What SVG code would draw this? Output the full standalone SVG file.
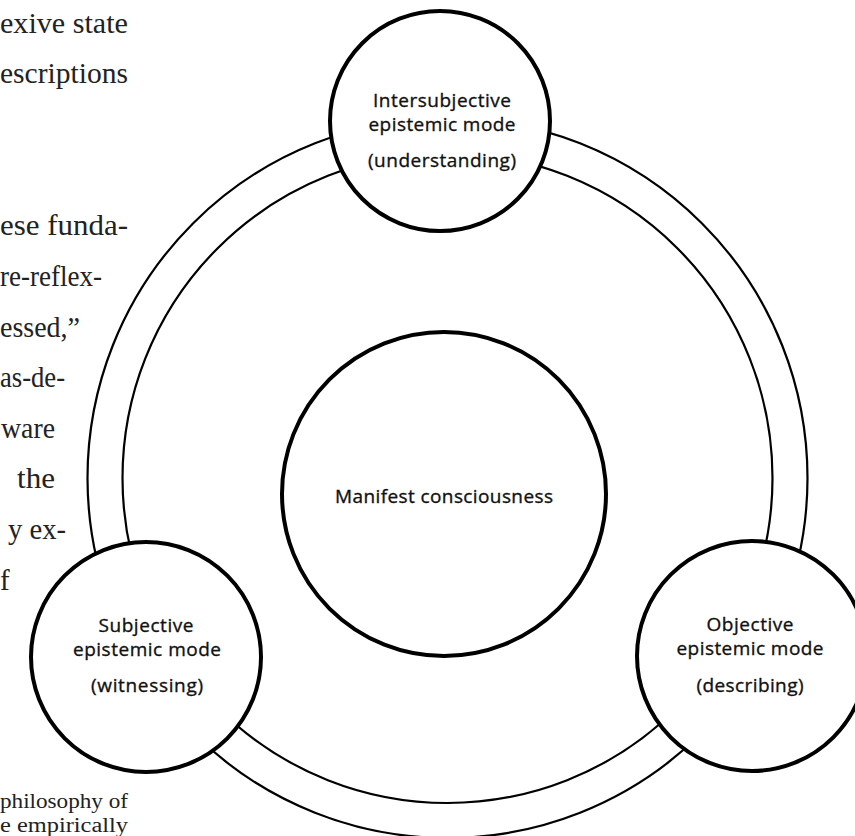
<svg xmlns="http://www.w3.org/2000/svg" width="855" height="836" viewBox="0 0 855 836">
<style>
.bg{font-family:"Liberation Serif","Times New Roman",serif;font-size:29px;fill:#222}
.bgs{font-family:"Liberation Serif","Times New Roman",serif;font-size:20.5px;fill:#222}
.node{fill:#fff;stroke:#000;stroke-width:4}
.ring{fill:none;stroke:#000;stroke-width:2.2}
.lbl{font-family:"Open Sans","Noto Sans","Liberation Sans",sans-serif;font-size:19px;fill:#111;stroke:#111;stroke-width:0.35;text-anchor:middle}
</style>
<rect width="855" height="836" fill="#fff"/>
<g id="page-text">
<text class="bg" x="0" y="33" textLength="128" lengthAdjust="spacingAndGlyphs">exive state</text>
<text class="bg" x="0" y="83" textLength="128" lengthAdjust="spacingAndGlyphs">escriptions</text>
<text class="bg" x="0" y="235" textLength="128" lengthAdjust="spacingAndGlyphs">ese funda-</text>
<text class="bg" x="0" y="286" textLength="102" lengthAdjust="spacingAndGlyphs">re-reflex-</text>
<text class="bg" x="0" y="337" textLength="80" lengthAdjust="spacingAndGlyphs">essed,”</text>
<text class="bg" x="0" y="387" textLength="65" lengthAdjust="spacingAndGlyphs">as-de-</text>
<text class="bg" x="1" y="438" textLength="54" lengthAdjust="spacingAndGlyphs">ware</text>
<text class="bg" x="17" y="488" textLength="38" lengthAdjust="spacingAndGlyphs">the</text>
<text class="bg" x="8" y="539" textLength="58" lengthAdjust="spacingAndGlyphs">y ex-</text>
<text class="bg" x="0" y="590">f</text>
<text class="bgs" x="0" y="808" textLength="128" lengthAdjust="spacingAndGlyphs">philosophy of</text>
<text class="bgs" x="0" y="832" textLength="128" lengthAdjust="spacingAndGlyphs">e empirically</text>
</g>
<g id="connectors">
<circle class="ring" cx="447.5" cy="478" r="360"/>
<circle class="ring" cx="447.5" cy="478" r="325"/>
</g>
<g id="center">
<circle class="node" cx="444" cy="494" r="162"/>
<text class="lbl" x="444" y="503" textLength="218" lengthAdjust="spacing">Manifest consciousness</text>
</g>
<g id="intersubjective">
<circle class="node" cx="440" cy="121" r="110"/>
<text class="lbl" x="442" y="107" textLength="138" lengthAdjust="spacing">Intersubjective</text>
<text class="lbl" x="442" y="131" textLength="147" lengthAdjust="spacing">epistemic mode</text>
<text class="lbl" x="442" y="167" textLength="148" lengthAdjust="spacing">(understanding)</text>
</g>
<g id="subjective">
<circle class="node" cx="146" cy="657" r="115"/>
<text class="lbl" x="146" y="632" textLength="95" lengthAdjust="spacing">Subjective</text>
<text class="lbl" x="147" y="656" textLength="148" lengthAdjust="spacing">epistemic mode</text>
<text class="lbl" x="147" y="692" textLength="112" lengthAdjust="spacing">(witnessing)</text>
</g>
<g id="objective">
<circle class="node" cx="752" cy="656" r="115"/>
<text class="lbl" x="750" y="631" textLength="87" lengthAdjust="spacing">Objective</text>
<text class="lbl" x="750" y="655" textLength="147" lengthAdjust="spacing">epistemic mode</text>
<text class="lbl" x="750" y="692" textLength="107" lengthAdjust="spacing">(describing)</text>
</g>
</svg>
